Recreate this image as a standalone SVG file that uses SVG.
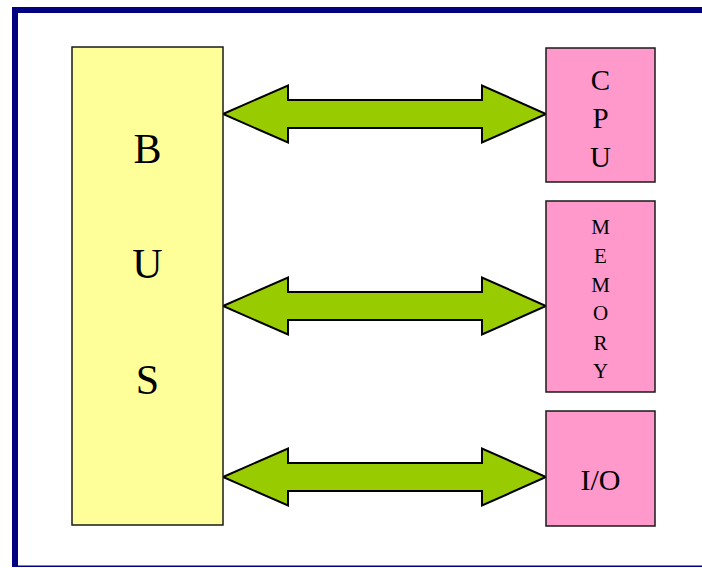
<svg xmlns="http://www.w3.org/2000/svg" xmlns:xlink="http://www.w3.org/1999/xlink" width="702" height="568" viewBox="0 0 702 568">
  <style>
    .frame { fill: #000080; }
    .bus { fill: #FFFF99; stroke: #1a1a1a; stroke-width: 1.5; }
    .dev { fill: #FF99CC; stroke: #1a1a1a; stroke-width: 1.5; }
    .arrow { fill: #99CC00; stroke: #000000; stroke-width: 2; stroke-linejoin: miter; }
    .lbl { font-family: "Liberation Serif", "Times New Roman", serif; fill: #000000; text-anchor: middle; }
  </style>
  <defs>
    <polygon id="dblArrow" points="223,0 288,-28.5 288,-14 482,-14 482,-28.5 546,0 482,28.5 482,14 288,14 288,28.5"/>
  </defs>
  <rect width="702" height="568" fill="#FFFFFF"/>
  <g id="frame">
    <rect class="frame" x="12" y="7" width="690" height="6"/>
    <rect class="frame" x="12" y="7" width="6" height="560"/>
    <rect class="frame" x="12" y="565.5" width="690" height="1.5"/>
  </g>
  <g id="connectors">
    <use xlink:href="#dblArrow" class="arrow" transform="translate(0,114)"/>
    <use xlink:href="#dblArrow" class="arrow" transform="translate(0,306)"/>
    <use xlink:href="#dblArrow" class="arrow" transform="translate(0,477)"/>
  </g>
  <g id="bus">
    <rect class="bus" x="72" y="47" width="151" height="478"/>
    <text class="lbl" x="147.5" y="163" font-size="42">B</text>
    <text class="lbl" x="147.5" y="278" font-size="42">U</text>
    <text class="lbl" x="147.5" y="394" font-size="42">S</text>
  </g>
  <g id="cpu">
    <rect class="dev" x="546" y="48" width="109" height="134"/>
    <text class="lbl" x="600.5" y="90" font-size="29">C</text>
    <text class="lbl" x="600.5" y="128" font-size="29">P</text>
    <text class="lbl" x="600.5" y="167" font-size="29">U</text>
  </g>
  <g id="memory">
    <rect class="dev" x="546" y="201" width="109" height="191"/>
    <text class="lbl" x="600.5" y="234" font-size="21">M</text>
    <text class="lbl" x="600.5" y="263" font-size="21">E</text>
    <text class="lbl" x="600.5" y="292" font-size="21">M</text>
    <text class="lbl" x="600.5" y="320" font-size="21">O</text>
    <text class="lbl" x="600.5" y="350" font-size="21">R</text>
    <text class="lbl" x="600.5" y="378" font-size="21">Y</text>
  </g>
  <g id="io">
    <rect class="dev" x="546" y="411" width="109" height="115"/>
    <text class="lbl" x="600.5" y="490" font-size="30">I/O</text>
  </g>
</svg>
